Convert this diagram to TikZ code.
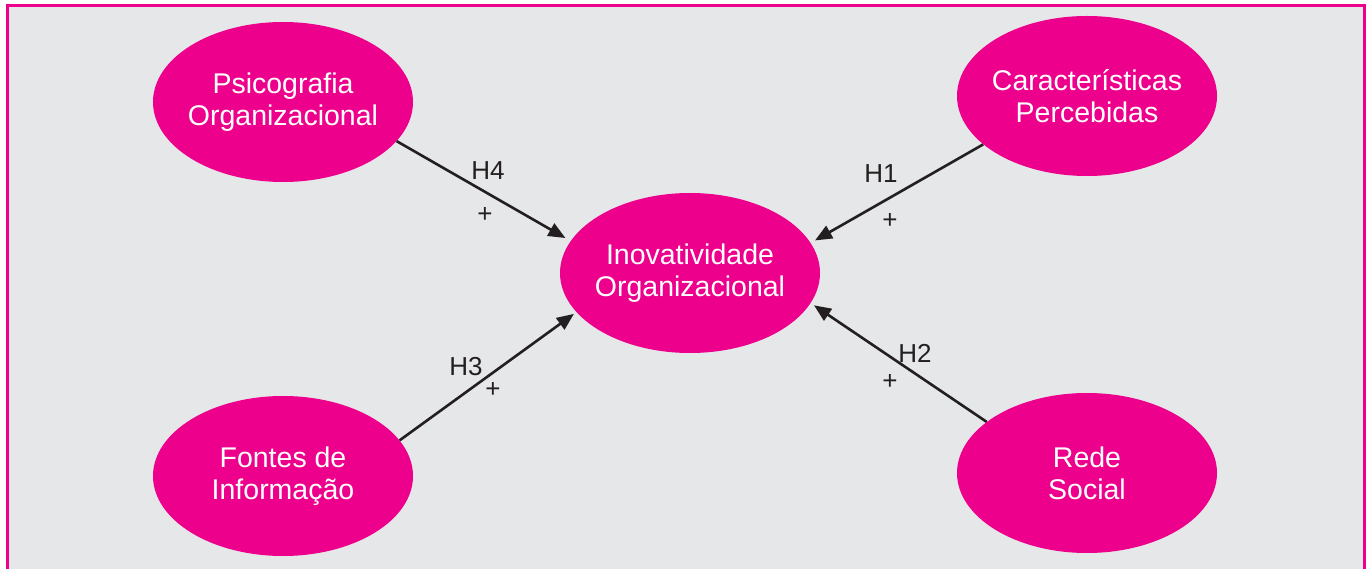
\documentclass[tikz,border=0pt]{standalone}
\usepackage{fontspec}
\setmainfont{Liberation Sans}
\usetikzlibrary{shapes.geometric,arrows.meta}
\definecolor{mag}{HTML}{EC008C}
\definecolor{bg}{HTML}{E6E7E8}
\definecolor{ink}{HTML}{231F20}
\begin{document}
\begin{tikzpicture}[x=1pt,y=-1pt,
  blob/.style={ellipse,fill=mag,draw=none,minimum width=260pt,minimum height=160pt,inner sep=0pt},
  blobtext/.style={text=white,align=center,font=\fontsize{28.5}{32}\selectfont,inner sep=0pt},
  hyp/.style={text=ink,font=\fontsize{26}{30}\selectfont,inner sep=0pt},
  arr/.style={draw=ink,line width=2.6pt,-{Triangle[length=17pt,width=14pt]}}]
\useasboundingbox (0,0) rectangle (1366,569);
\begin{scope}
\clip (0,0) rectangle (1366,569);
\path[fill=bg,draw=mag,line width=3pt] (7,6) rectangle (1364,600);
\end{scope}
\node[blob] (psico) at (283,102) {};
\node[blob] (carac) at (1087,96) {};
\node[blob] (inov) at (690,273) {};
\node[blob] (fontes) at (283,476) {};
\node[blob] (rede) at (1087,473) {};
\node[blobtext] (psicoT) at (psico) {Psicografia\\Organizacional};
\node[blobtext] (caracT) at (carac) {Características\\Percebidas};
\node[blobtext] (inovT) at (inov) {Inovatividade\\Organizacional};
\node[blobtext] (fontesT) at (fontes) {Fontes de\\Informação};
\node[blobtext] (redeT) at (rede) {Rede\\Social};
\draw[arr,shorten >=6pt] (psico.-19.5) -- (inov.165.7);
\draw[arr,shorten >=5pt] (carac.205.9) -- (inov.14.2);
\draw[arr,shorten >=3pt] (fontes.17.8) -- (inov.199.2);
\draw[arr,shorten >=4pt] (rede.153.9) -- (inov.-14.6);
\node[hyp] (h4) at (488,171) {H4};
\node[hyp] (p4) at (485,215) {+};
\node[hyp] (h1) at (881,174) {H1};
\node[hyp] (p1) at (890,221) {+};
\node[hyp] (h3) at (466,367) {H3};
\node[hyp] (p3) at (493,390) {+};
\node[hyp] (h2) at (915,353) {H2};
\node[hyp] (p2) at (890,382) {+};
\end{tikzpicture}
\end{document}
